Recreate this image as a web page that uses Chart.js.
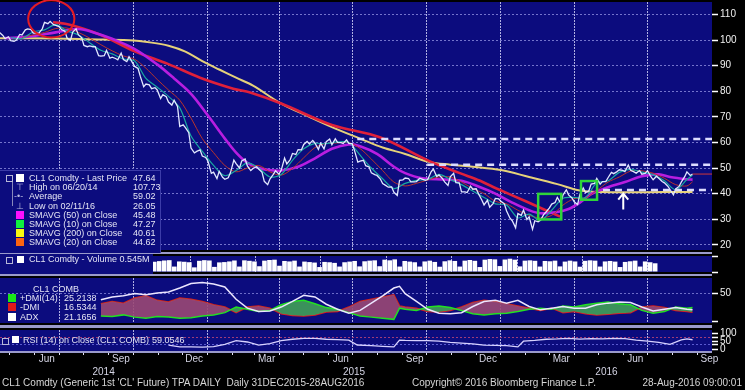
<!DOCTYPE html>
<html>
<head>
<meta charset="utf-8">
<title>CL1 Comdty</title>
<script src="https://cdn.jsdelivr.net/npm/chart.js@4.4.1/dist/chart.umd.min.js"></script>
<style>
  body { margin: 0; background: #000; }
  #wrap { position: relative; width: 745px; height: 390px; overflow: hidden; background: #000;
          font-family: "Liberation Sans", Arial, sans-serif; }
  canvas { position: absolute; left: 0; }
  .sep { position: absolute; left: 0; width: 712px; background: #9a9acb; }
  .txt { position: absolute; white-space: nowrap; font-size: 9px; line-height: 9px; color: #e4e4f4; }
  .sq { position: absolute; width: 8px; height: 8px; }
  .boxicon { position: absolute; width: 5px; height: 5px; border: 1px solid #b8b8d8; }
  .foot { position: absolute; top: 378px; font-size: 10px; line-height: 10px; color: #d6d6d6; white-space: nowrap; }
</style>
</head>
<body>
<div id="wrap">
  <canvas id="mainChart" width="745" height="252" style="top:0"></canvas>
  <div class="sep" style="top:252px;height:2px"></div>
  <canvas id="volChart" width="745" height="20" style="top:254px"></canvas>
  <div class="sep" style="top:274px;height:2px"></div>
  <canvas id="dmiChart" width="745" height="49" style="top:276px"></canvas>
  <div class="sep" style="top:325px;height:3px"></div>
  <canvas id="rsiChart" width="745" height="50" style="top:328px"></canvas>
  <div class="sep" style="top:351px;height:2px"></div>

  <!-- price legend -->
  <div style="position:absolute;left:0;top:170px;width:160px;height:82px;background:#0c0c7e;border-top:1px solid #3c3ca8;border-right:1px solid #3c3ca8"></div>
  <div style="position:absolute;left:12px;top:181px;width:1px;height:25px;background:#8888bb"></div>
  <div class="boxicon" style="left:6px;top:175px"></div>
  <div class="sq" style="left:16px;top:174px;background:#fff"></div>
  <div class="txt" style="left:29px;top:174px">CL1 Comdty - Last Price</div><div class="txt" style="left:133px;top:174px">47.64</div>
  <div class="txt" style="left:16px;top:183px;color:#b8b8e0">⊤</div>
  <div class="txt" style="left:29px;top:183px">High on 06/20/14</div><div class="txt" style="left:133px;top:183px">107.73</div>
  <div class="txt" style="left:14px;top:192px;color:#b8b8e0">-•-</div>
  <div class="txt" style="left:29px;top:192px">Average</div><div class="txt" style="left:133px;top:192px">59.02</div>
  <div class="txt" style="left:16px;top:202px;color:#b8b8e0">⊥</div>
  <div class="txt" style="left:29px;top:202px">Low on 02/11/16</div><div class="txt" style="left:133px;top:202px">26.05</div>
  <div class="sq" style="left:16px;top:211px;background:#ff10ff"></div>
  <div class="txt" style="left:29px;top:211px">SMAVG (50) on Close</div><div class="txt" style="left:133px;top:211px">45.48</div>
  <div class="sq" style="left:16px;top:220px;background:#10f040"></div>
  <div class="txt" style="left:29px;top:220px">SMAVG (10) on Close</div><div class="txt" style="left:133px;top:220px">47.27</div>
  <div class="sq" style="left:16px;top:229px;background:#f8f810"></div>
  <div class="txt" style="left:29px;top:229px">SMAVG (200) on Close</div><div class="txt" style="left:133px;top:229px">40.61</div>
  <div class="sq" style="left:16px;top:238px;background:#ff6410"></div>
  <div class="txt" style="left:29px;top:238px">SMAVG (20) on Close</div><div class="txt" style="left:133px;top:238px">44.62</div>

  <!-- volume legend -->
  <div style="position:absolute;left:0;top:254px;width:153px;height:20px;background:#0c0c7e"></div>
  <div class="boxicon" style="left:6px;top:257px"></div>
  <div class="sq" style="left:17px;top:256px;width:7px;height:7px;background:#fff"></div>
  <div class="txt" style="left:29px;top:255px">CL1 Comdty - Volume 0.545M</div>

  <!-- DMI legend -->
  <div class="txt" style="left:33px;top:285px">CL1 COMB</div>
  <div class="sq" style="left:8px;top:294px;background:#19e619"></div>
  <div class="txt" style="left:20px;top:294px">+DMI(14)</div><div class="txt" style="left:64px;top:294px">25.2138</div>
  <div class="sq" style="left:8px;top:303px;background:#e01818"></div>
  <div class="txt" style="left:20px;top:303px">-DMI</div><div class="txt" style="left:64px;top:303px">16.5344</div>
  <div class="sq" style="left:8px;top:313px;background:#fff"></div>
  <div class="txt" style="left:20px;top:313px">ADX</div><div class="txt" style="left:64px;top:313px">21.1656</div>

  <!-- RSI legend -->
  <div class="boxicon" style="left:2px;top:338px"></div>
  <div class="sq" style="left:12px;top:336px;width:7px;height:7px;background:#fff"></div>
  <div class="txt" style="left:23px;top:336px">RSI (14) on Close (CL1 COMB)</div><div class="txt" style="left:152px;top:336px">59.0546</div>

  <!-- footer -->
  <div class="foot" style="left:2px">CL1 Comdty (Generic 1st 'CL' Future) TPA DAILY&nbsp; Daily 31DEC2015-28AUG2016</div>
  <div class="foot" style="left:412px">Copyright© 2016 Bloomberg Finance L.P.</div>
  <div class="foot" style="right:3px">28-Aug-2016 09:00:01</div>
</div>

<script>
// x values are weeks counted from Friday 18 Apr 2014
const weekZero = Date.UTC(2014, 3, 18);
const weekMs = 7 * 864e5;
function weekOf(iso) {
  const [y, m, d] = iso.split("-").map(Number);
  return (Date.UTC(y, m - 1, d) - weekZero) / weekMs;
}

// Friday closes, week 0 .. week 123 (26 Aug 2016)
const fridayClose = [
  103.0, 100.6, 99.8, 100.0, 102.0, 104.4, 102.7, 102.7, 106.9, 107.3,
  105.7, 104.1, 100.8, 103.1, 102.1, 97.9, 97.7, 97.4, 93.7, 96.0,
  93.3, 92.3, 92.4, 93.5, 89.7, 85.8, 82.8, 81.0, 80.5, 78.7,
  75.8, 76.5, 66.2, 65.8, 57.8, 56.5, 54.7, 52.7, 48.4, 48.7,
  45.6, 48.2, 51.7, 52.8, 50.8, 49.8, 49.6, 44.8, 45.7, 48.9,
  49.1, 51.6, 55.7, 57.2, 59.2, 59.4, 59.7, 59.7, 60.3, 59.1,
  60.0, 59.6, 59.6, 56.9, 52.7, 50.9, 48.1, 47.1, 43.9, 42.5,
  40.5, 45.2, 46.1, 44.6, 44.7, 45.7, 45.5, 49.6, 47.3, 44.6,
  46.6, 44.3, 40.7, 40.4, 41.7, 40.0, 35.6, 34.7, 38.1, 37.0,
  33.2, 29.4, 32.2, 33.6, 30.9, 29.4, 29.6, 32.8, 35.9, 38.5,
  39.4, 39.5, 36.8, 39.7, 40.4, 43.7, 45.9, 44.7, 46.2, 47.8,
  49.3, 48.6, 49.1, 48.0, 47.6, 49.0, 45.4, 46.0, 44.2, 41.6,
  41.8, 44.5, 48.5, 47.64
];

// mid-week closes, between week i and week i+1
const midweekClose = [
  101.8, 101.3, 99.5, 102.2, 104.0, 104.1, 102.7, 104.4, 106.4, 106.0,
  105.3, 103.5, 99.9, 104.4, 100.9, 97.4, 97.4, 93.9, 93.9, 92.9,
  92.8, 94.9, 91.6, 91.2, 88.9, 81.8, 82.5, 81.4, 77.2, 77.9,
  74.6, 74.1, 66.9, 63.8, 55.9, 57.1, 54.1, 47.9, 45.9, 46.4,
  46.2, 53.1, 50.0, 53.5, 49.0, 50.5, 48.3, 43.5, 47.5, 47.6,
  53.9, 53.3, 55.3, 57.1, 60.4, 60.8, 57.3, 57.5, 61.3, 61.4,
  59.9, 61.0, 59.5, 52.3, 53.0, 50.4, 47.4, 45.7, 43.1, 42.6,
  39.3, 45.4, 45.9, 44.6, 46.0, 45.2, 48.5, 46.7, 45.9, 43.2,
  47.9, 44.2, 40.7, 42.9, 41.9, 37.5, 37.4, 36.1, 37.9, 36.0,
  30.4, 26.6, 31.5, 29.9, 26.05, 29.0, 31.9, 34.4, 36.5, 36.3,
  41.5, 38.3, 35.7, 42.2, 41.1, 44.0, 43.7, 44.7, 48.3, 48.6,
  49.1, 51.2, 48.5, 49.0, 47.9, 46.6, 46.8, 44.7, 42.9, 39.5,
  42.8, 46.6, 47.1
];

// moving averages as [week, value]
const sma10 = [[2,101.0],[4,100.6],[6,103.2],[8,104.0],[10,106.0],[12,103.6],[14,102.0],[16,99.0],[18,96.0],[20,94.6],
  [22,92.6],[24,91.8],[26,85.0],[28,81.6],[30,78.0],[32,73.5],[34,62.5],[36,56.5],[38,51.0],[40,47.0],
  [42,49.0],[44,52.0],[46,50.0],[48,46.5],[50,47.5],[52,53.0],[54,57.5],[56,59.6],[58,59.5],[60,60.2],
  [62,60.0],[64,55.0],[66,50.0],[68,45.8],[70,42.0],[72,44.0],[74,45.2],[76,45.5],[78,47.5],[80,45.5],
  [82,43.5],[84,41.0],[86,38.5],[88,36.0],[90,35.5],[92,30.5],[94,32.0],[96,29.5],[98,33.5],[100,38.2],
  [102,38.5],[104,38.5],[106,44.2],[108,45.0],[110,48.3],[112,49.5],[114,48.4],[116,47.3],[118,45.0],[120,41.5],
  [122,45.5],[123,47.27]];
const sma20 = [[4,101.0],[6,102.0],[8,103.0],[10,104.5],[12,104.7],[14,103.0],[16,100.8],[18,98.2],[20,95.8],[22,93.8],
  [24,92.5],[26,89.0],[28,84.6],[30,80.5],[32,76.5],[34,69.5],[36,61.5],[38,56.0],[40,51.0],[42,48.5],
  [44,50.0],[46,51.0],[48,48.5],[50,47.2],[52,49.8],[54,54.0],[56,58.0],[58,59.6],[60,59.8],[62,60.0],
  [64,57.6],[66,53.5],[68,49.0],[70,44.5],[72,43.0],[74,44.0],[76,45.3],[78,46.5],[80,46.5],[82,44.5],
  [84,42.0],[86,40.0],[88,37.0],[90,36.0],[92,33.5],[94,31.5],[96,30.5],[98,31.5],[100,35.5],[102,38.0],
  [104,38.3],[106,41.2],[108,44.5],[110,46.5],[112,48.8],[114,48.9],[116,48.0],[118,46.0],[120,43.5],[122,43.0],
  [123,44.62]];
const sma50 = [[1,100.8],[5,101.3],[10,103.0],[14,104.3],[17,102.8],[20,100.5],[24,96.5],[28,90.5],[31,85.0],[34,79.0],
  [37,70.5],[40,61.5],[42,56.0],[44,52.0],[46,50.0],[48,49.2],[50,49.0],[53,50.5],[56,53.8],[59,57.5],
  [62,59.2],[64,58.5],[67,55.5],[70,50.5],[72,48.0],[75,46.0],[79,45.5],[82,45.0],[85,42.8],[88,40.0],
  [91,36.5],[94,33.5],[96,32.3],[99,32.8],[101,34.0],[103,36.5],[105,39.8],[108,42.5],[111,44.5],[114,46.8],
  [117,47.5],[119,46.5],[122,45.6],[123,45.48]];
const sma200 = [[0,100.7],[10,100.6],[16,100.3],[23,99.9],[27,99.0],[30,97.8],[33,95.5],[36,91.8],[39,88.5],[42,85.3],
  [45,82.2],[50,75.2],[55,70.0],[59,66.0],[64,61.5],[68,58.0],[72,55.5],[76,52.5],[80,51.3],[84,50.5],
  [89,49.2],[94,46.5],[99,43.7],[103,41.2],[107,40.6],[112,40.5],[118,40.6],[123,40.61]];
const redTrend = [[9.5,107.0],[12.5,106.0],[18,102.0],[24,95.6],[30,90.6],[35.6,85.3],[41.5,81.0],[44.5,79.5],[50,75.2],
  [59,66.8],[67.5,62.0],[76.4,52.6],[81.7,48.0],[85.3,45.0],[87.6,42.6],[93.6,36.8],[99.5,31.0]];

// dashed resistance / support levels and the week they start
const levelValues = [61.3, 51.3, 41.4];
const levelStartWeeks = [63.5, 75.9, 107.1];

// volume in thousands, one bar per week
const volume = [
  430, 520, 480, 330, 540, 560, 320, 560, 610, 640,
  360, 540, 580, 520, 300, 620, 560, 540, 280, 580,
  620, 600, 300, 640, 680, 720, 740, 340, 660, 640,
  610, 290, 700, 740, 720, 320, 600, 620, 660, 720,
  340, 730, 700, 660, 360, 710, 750, 770, 390, 690,
  660, 710, 340, 650, 620, 590, 310, 630, 610, 570,
  340, 610, 650, 690, 350, 670, 710, 730, 360, 770,
  730, 790, 340, 690, 650, 610, 340, 660, 710, 630,
  330, 670, 730, 690, 340, 710, 750, 700, 310, 770,
  810, 790, 370, 780, 830, 770, 350, 710, 730, 700,
  340, 690, 670, 710, 350, 650, 710, 660, 330, 700,
  730, 710, 340, 660, 690, 650, 310, 630, 670, 710,
  340, 660, 610, 545
];

// DMI / ADX
const dmiWeeks = [18,20,22,24,26,28,30,32,34,36,38,40,42,44,46,48,50,52,54,56,58,60,62,64,66,68,70,71,
  72,74,76,78,80,82,84,86,88,90,92,94,96,98,100,102,104,106,108,110,112,114,116,118,120,122,123];
const plusDmi = [10,9,12,8,6,9,8,6,7,10, 12,16,26,22,18,20,30,36,38,32, 25,22,16,10,8,6,4,24,22,20,
  26,28,25,20,14,12,14,15,18,22, 24,22,28,26,30,33,35,32,30,20, 15,18,26,24,25.21];
const minusDmi = [32,36,33,42,46,38,35,42,40,36, 30,26,16,26,28,24,14,11,10,12, 17,18,26,36,40,44,48,28,26,24,
  18,17,20,26,34,38,36,32,28,24, 20,24,16,18,14,12,13,15,16,26, 28,25,20,18,16.53];
const adx = [39,44,46,50,48,51,53,60,68,70, 67,62,40,24,18,19,26,36,47,44, 31,22,15,20,33,46,60,63,50,36,
  22,15,14,16,27,36,38,33,38,27, 21,24,27,24,24,30,33,35,34,26, 19,22,25,22,21.17];

// RSI(14) as [week, value]
const rsi = [[30,25],[32,15],[34,14],[36,13],[38,16],[40,30],[42,53],[44,45],[46,25],[48,35],[50,53],[52,62],
  [54,68],[56,67],[58,62],[60,60],[62,57],[63.5,26],[66,22],[68,18],[70,14],[71,57],[72,55],[74,54],[76,53],
  [78,50],[80,43],[82,38],[84,33],[86,25],[88,24],[90,22],[92,14],[93,50],[95,55],[97,62],[99,64],[101,68],
  [103,63],[105,66],[107,64],[109,68],[111,66],[113,57],[115,50],[117,43],[119,30],[121,58],[122,64],[123,59.05]];

// axis ticks
const priceTicks = [20, 30, 40, 50, 60, 70, 80, 90, 100, 110];
const quarterStarts = ["2014-07-01", "2014-10-01", "2015-01-01", "2015-04-01", "2015-07-01",
  "2015-10-01", "2016-01-01", "2016-04-01", "2016-07-01"];
const monthNames = { 3: "Mar", 6: "Jun", 9: "Sep", 12: "Dec" };
const years = ["2014", "2015", "2016"];

// chart markups (in week / price units)
const highlightCircle = { week: 9.2, price: 108.3, halfWeeks: 4.1, halfPrice: 7.3 };
const breakoutBoxes = [
  { from: 95.6, to: 99.7, low: 29.9, high: 39.9 },
  { from: 103.2, to: 106.05, low: 37.6, high: 44.9 }
];
const supportArrow = { week: 110.7, tip: 40.0, tail: 33.8 };

const xMin = 0.1;
const xMax = 126.45;
const navy = "#0c0c7e";

Chart.defaults.font.family = "'Liberation Sans', Arial, sans-serif";

const panelBackground = {
  id: "panelBackground",
  beforeDraw(chart) {
    const { ctx, chartArea: a } = chart;
    ctx.save();
    ctx.fillStyle = navy;
    ctx.fillRect(a.left, a.top, a.width, a.height);
    ctx.restore();
  }
};

const markups = {
  id: "markups",
  afterDatasetsDraw(chart) {
    const { ctx, scales: { x, y } } = chart;
    ctx.save();
    // red ring round the 2014 high
    const cx = x.getPixelForValue(highlightCircle.week);
    const cy = y.getPixelForValue(highlightCircle.price);
    const rx = x.getPixelForValue(highlightCircle.week + highlightCircle.halfWeeks) - cx;
    const ry = cy - y.getPixelForValue(highlightCircle.price + highlightCircle.halfPrice);
    ctx.strokeStyle = "#e41c24";
    ctx.lineWidth = 2;
    ctx.beginPath();
    ctx.ellipse(cx, cy, rx, ry, 0, 0, Math.PI * 2);
    ctx.stroke();
    // green boxes
    ctx.strokeStyle = "#2fd43a";
    ctx.lineWidth = 2.5;
    breakoutBoxes.forEach((b) => {
      const l = x.getPixelForValue(b.from);
      const r = x.getPixelForValue(b.to);
      const t = y.getPixelForValue(b.high);
      const btm = y.getPixelForValue(b.low);
      ctx.strokeRect(l, t, r - l, btm - t);
    });
    // white arrow
    const ax = x.getPixelForValue(supportArrow.week);
    const tip = y.getPixelForValue(supportArrow.tip);
    const tail = y.getPixelForValue(supportArrow.tail);
    ctx.strokeStyle = "#ffffff";
    ctx.lineWidth = 2;
    ctx.beginPath();
    ctx.moveTo(ax, tail);
    ctx.lineTo(ax, tip);
    ctx.moveTo(ax - 5, tip + 6);
    ctx.lineTo(ax, tip);
    ctx.lineTo(ax + 5, tip + 6);
    ctx.stroke();
    ctx.restore();
  }
};

function pairs(list) {
  return list.map(([x, y]) => ({ x, y }));
}

function line(label, data, color, width, extra) {
  return Object.assign({
    label, data, borderColor: color, borderWidth: width,
    pointRadius: 0, tension: 0, fill: false
  }, extra || {});
}

function panelX() {
  return {
    type: "linear", min: xMin, max: xMax,
    afterBuildTicks: (s) => { s.ticks = quarterStarts.map((d) => ({ value: weekOf(d) })); },
    ticks: { display: false },
    grid: { color: "#b0b0e2", lineWidth: 1, drawTicks: false },
    border: { display: false, dash: [2, 1] },
    afterFit: (s) => { s.height = 0; }
  };
}

function rightAxis(min, max, tickValues, labelValues, gridColor) {
  return {
    position: "right", min, max,
    afterBuildTicks: (s) => { s.ticks = tickValues.map((v) => ({ value: v })); },
    afterFit: (s) => { s.width = 33; },
    ticks: {
      color: "#f0f0f0", font: { size: 10, lineHeight: 0 }, padding: 2, autoSkip: false,
      callback: (v) => (labelValues.includes(v) ? String(v) : "")
    },
    grid: { color: gridColor, tickColor: "#ffffff", tickLength: 6, tickWidth: 1.5 },
    border: { display: false, dash: [2, 2] }
  };
}

function panelOptions(scales) {
  return {
    responsive: false, animation: false, events: [], devicePixelRatio: 1,
    layout: { padding: 0 },
    plugins: { legend: { display: false }, tooltip: { enabled: false } },
    scales
  };
}

// ---------- price panel ----------
const pricePoints = [];
fridayClose.forEach((v, i) => {
  pricePoints.push({ x: i, y: v });
  if (i < midweekClose.length) pricePoints.push({ x: i + 0.6, y: midweekClose[i] });
});

const levelSets = levelValues.map((v, i) =>
  line("Level " + v, [{ x: levelStartWeeks[i], y: v }, { x: xMax, y: v }], "#dcdcff", 2.5, { borderDash: [7, 5] })
);

new Chart(document.getElementById("mainChart"), {
  type: "line",
  data: {
    datasets: [
      ...levelSets,
      line("Last", [{ x: fridayClose.length - 1, y: fridayClose[fridayClose.length - 1] }, { x: xMax, y: fridayClose[fridayClose.length - 1] }], "#d03838", 1),
      line("CL1 Comdty - Last Price", pricePoints, "#e2e8ff", 1.3),
      line("SMAVG (10) on Close", pairs(sma10), "#19a8a0", 1.2, { tension: 0.3 }),
      line("SMAVG (20) on Close", pairs(sma20), "#b8342c", 1, { tension: 0.3 }),
      line("SMAVG (50) on Close", pairs(sma50), "#b81ee0", 2.6, { tension: 0.35 }),
      line("Trend", pairs(redTrend), "#e0203a", 2.6, { tension: 0.35 }),
      line("SMAVG (200) on Close", pairs(sma200), "#e6d27a", 2, { tension: 0.35 })
    ]
  },
  options: panelOptions({
    x: panelX(),
    y: rightAxis(17.96, 114.88, priceTicks, priceTicks, "#7474cc")
  }),
  plugins: [panelBackground, markups]
});

// ---------- volume panel ----------
new Chart(document.getElementById("volChart"), {
  type: "bar",
  data: {
    datasets: [{
      label: "Volume",
      data: volume.map((v, i) => ({ x: i, y: v })),
      backgroundColor: "#ffffff",
      barPercentage: 0.92,
      categoryPercentage: 1
    }]
  },
  options: panelOptions({
    x: panelX(),
    y: rightAxis(0, 1000, [0, 950], [], "transparent")
  }),
  plugins: [panelBackground]
});

// ---------- DMI panel ----------
const dmiPoints = (vals) => vals.map((v, i) => ({ x: dmiWeeks[i], y: v }));
new Chart(document.getElementById("dmiChart"), {
  type: "line",
  data: {
    datasets: [
      line("ADX", dmiPoints(adx), "#ece6ff", 1.5),
      line("+DMI(14)", dmiPoints(plusDmi), "#22e022", 1.5, {
        fill: { target: 2, above: "rgba(64,160,88,0.9)", below: "rgba(154,72,116,0.9)" }
      }),
      line("-DMI", dmiPoints(minusDmi), "#e01818", 1.5)
    ]
  },
  options: panelOptions({
    x: panelX(),
    y: rightAxis(-2.5, 77.9, [0, 50], [50], (c) => (c.tick && c.tick.value === 50 ? "#6c6cc8" : "transparent"))
  }),
  plugins: [panelBackground]
});

// ---------- RSI panel + time axis ----------
const monthTicks = [];
for (let i = 0; i <= 28; i++) {
  const d = new Date(Date.UTC(2014, 4 + i, 1));
  monthTicks.push({ value: (d.getTime() - weekZero) / weekMs, month: d.getUTCMonth() + 1 });
}
const quarterMonths = [1, 4, 7, 10];
const yearBounds = [xMin, weekOf("2015-01-01"), weekOf("2016-01-01"), xMax];
const yearTicks = years.map((y, i) => ({ value: (yearBounds[i] + yearBounds[i + 1]) / 2 }));

new Chart(document.getElementById("rsiChart"), {
  type: "line",
  data: {
    datasets: [line("RSI (14) on Close (CL1 COMB)", pairs(rsi), "#d8d2ff", 1.3)]
  },
  options: panelOptions({
    x: {
      type: "linear", min: xMin, max: xMax, position: "bottom", weight: 0,
      afterBuildTicks: (s) => { s.ticks = monthTicks.map((t) => ({ value: t.value })); },
      afterFit: (s) => { s.height = 13; },
      ticks: {
        color: "#d4d4e4", font: { size: 10 }, padding: -2, labelOffset: 12,
        autoSkip: false, maxRotation: 0,
        callback: (v, i) => monthNames[monthTicks[i].month] || ""
      },
      grid: {
        color: (c) => (c.index !== undefined && monthTicks[c.index] && quarterMonths.includes(monthTicks[c.index].month) ? "#b0b0e2" : "transparent"),
        tickColor: "#e0e0f0", tickLength: 4, tickWidth: 1
      },
      border: { display: false, dash: [2, 1] }
    },
    xYear: {
      type: "linear", min: xMin, max: xMax, position: "bottom", weight: 1,
      afterBuildTicks: (s) => { s.ticks = yearTicks.map((t) => ({ value: t.value })); },
      afterFit: (s) => { s.height = 14; },
      ticks: {
        color: "#d4d4e4", font: { size: 10 }, padding: 2, autoSkip: false, maxRotation: 0,
        callback: (v, i) => years[i]
      },
      grid: { display: false, drawTicks: false },
      border: { display: false }
    },
    y: rightAxis(-11.4, 120, [0, 30, 50, 70, 100], [0, 50, 100],
      (c) => (c.tick && c.tick.value === 70 ? "#a03c78" : c.tick && c.tick.value === 30 ? "#5a5ad0" : "transparent"))
  }),
  plugins: [panelBackground]
});
</script>
</body>
</html>
